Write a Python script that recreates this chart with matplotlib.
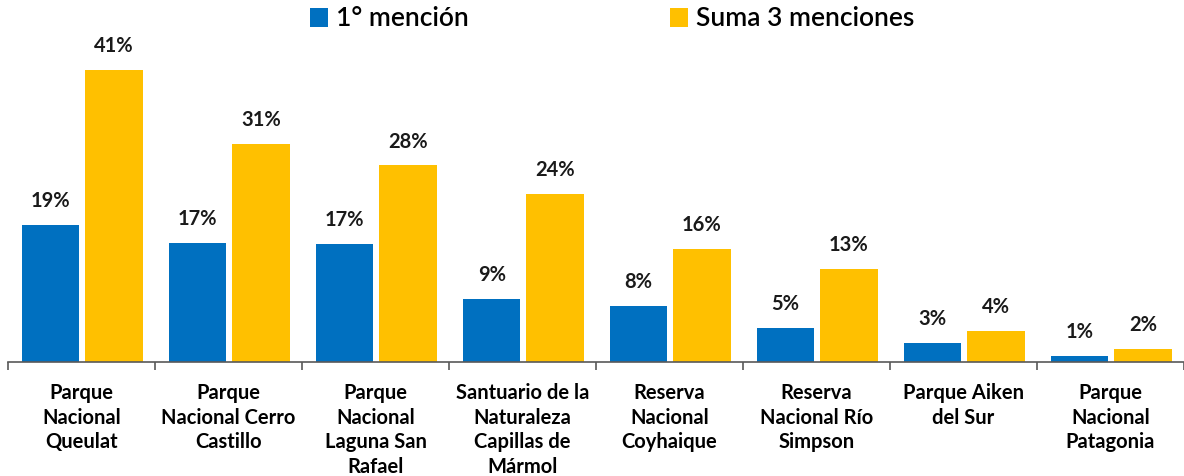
import numpy as np
import matplotlib.pyplot as plt

# -- data
categories = ['Parque\nNacional\nQueulat', 'Parque\nNacional Cerro\nCastillo',
              'Parque\nNacional\nLaguna San\nRafael', 'Santuario de la\nNaturaleza\nCapillas de\nMármol',
              'Reserva\nNacional\nCoyhaique', 'Reserva\nNacional Río\nSimpson',
              'Parque Aiken\ndel Sur', 'Parque\nNacional\nPatagonia']
primera = [19.2, 16.7, 16.6, 8.8, 7.9, 4.8, 2.7, 0.9]
suma3 = [41.0, 30.6, 27.6, 23.6, 15.9, 13.1, 4.4, 1.8]
series_names = ['1° mención', 'Suma 3 menciones']

color_blue = '#0070C0'
color_yellow = '#FFC000'

plt.rcParams['font.family'] = ['Lato', 'DejaVu Sans']

fig = plt.figure(figsize=(11.84, 4.76), dpi=100)
ax = fig.add_axes([8/1184, 1-362/476, 1-8/1184, (362-41.5)/476])

x = np.arange(len(categories))
w = 0.39
b1 = ax.bar(x - 0.21, primera, w, color=color_blue, label=series_names[0])
b2 = ax.bar(x + 0.22, suma3, w, color=color_yellow, label=series_names[1])

for bars, vals in [(b1, primera), (b2, suma3)]:
    for rect, v in zip(bars, vals):
        ax.annotate('%.0f%%' % v, (rect.get_x() + rect.get_width()/2, rect.get_height()),
                    xytext=(0, 10), textcoords='offset points', ha='center', va='bottom',
                    fontsize=14.5, fontweight='bold', color='#1a1a1a')

ax.set_xlim(-0.5, len(categories) - 0.5)
ax.set_ylim(0, 45)
ax.set_yticks([])
for s in ['top', 'right', 'left']:
    ax.spines[s].set_visible(False)
ax.spines['bottom'].set_color('#595959')
ax.spines['bottom'].set_linewidth(1.2)

ax.set_xticks(x)
ax.set_xticklabels(categories, fontsize=14.5, fontweight='bold', linespacing=1.3, va='top')
ax.tick_params(axis='x', length=0, pad=15)
ax.set_xticks(np.arange(len(categories) + 1) - 0.5, minor=True)
ax.tick_params(axis='x', which='minor', length=6, width=1.2, color='#595959')

fig.legend(handles=[b1, b2], labels=series_names, loc='center', bbox_to_anchor=(612/1184, 1-19/476),
           ncol=2, frameon=False, prop={'weight': 'semibold', 'size': 19},
           handlelength=0.7, handleheight=0.7, handletextpad=0.3, columnspacing=7.6)

fig.savefig('out.png', dpi=100)
